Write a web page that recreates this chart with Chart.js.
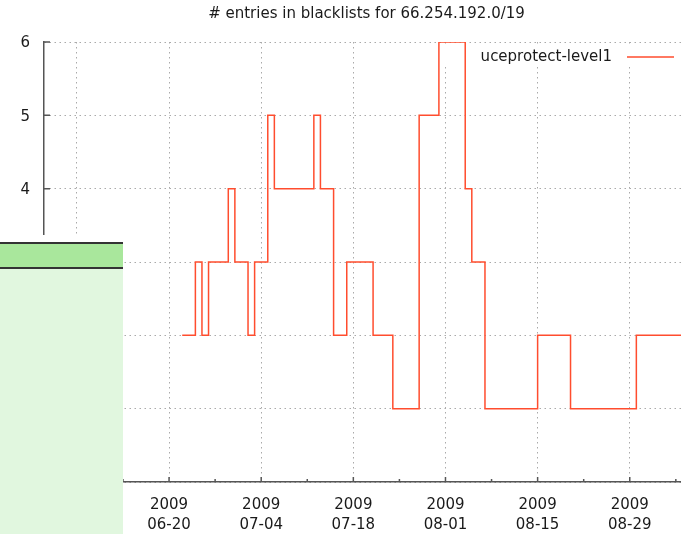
<!DOCTYPE html>
<html>
<head>
<meta charset="utf-8">
<script src="https://cdn.jsdelivr.net/npm/chart.js@4/dist/chart.umd.min.js"></script>
<style>
  html, body { margin: 0; padding: 0; background: #fff; overflow: hidden; }
  #wrap { position: relative; width: 681px; height: 534px; overflow: hidden; }
  #c { position: absolute; left: 0; top: 0; }
  #overlay { position: absolute; left: 0; top: 235px; width: 123px; height: 299px; background: #fff; }
  #ovHead { position: absolute; left: 0; top: 7px; width: 123px; height: 23px; background: #a9e79c;
            border-top: 2px solid #333; border-bottom: 2px solid #333; }
  #ovBody { position: absolute; left: 0; top: 34px; width: 123px; bottom: 0; background: #e1f7df; }
</style>
</head>
<body>
<div id="wrap">
  <canvas id="c" width="689" height="534"></canvas>
  <div id="overlay"><div id="ovHead"></div><div id="ovBody"></div></div>
</div>
<script>
// ---- data ----
const chartTitle = '# entries in blacklists for 66.254.192.0/19';
const seriesName = 'uceprotect-level1';
const changeDates = ['2009-06-22','2009-06-24','2009-06-25','2009-06-26','2009-06-29','2009-06-30',
  '2009-07-02','2009-07-03','2009-07-05','2009-07-06','2009-07-12','2009-07-13','2009-07-15',
  '2009-07-17','2009-07-21','2009-07-24','2009-07-28','2009-07-31','2009-08-04','2009-08-05',
  '2009-08-07','2009-08-15','2009-08-20','2009-08-30','2009-09-08'];
const entryCounts = [2,3,2,3,4,3,2,3,5,4,5,4,2,3,2,1,5,6,4,3,1,2,1,2,2];
const majorTickDates = ['2009-06-06','2009-06-20','2009-07-04','2009-07-18','2009-08-01','2009-08-15','2009-08-29'];
const majorTickLabels = [['2009','06-06'],['2009','06-20'],['2009','07-04'],['2009','07-18'],['2009','08-01'],['2009','08-15'],['2009','08-29']];
const minorTickDates = ['2009-05-30','2009-06-13','2009-06-27','2009-07-11','2009-07-25','2009-08-08','2009-08-22','2009-09-05'];
const yTicks = [0,1,2,3,4,5,6];
const axisStart = '2009-06-01T00:00:00';
const axisEnd = '2009-09-07T00:00:00';

// ---- helpers ----
const origin = Date.UTC(2009, 5, 20);
function toDay(s) {
  const t = s.length <= 10 ? s + 'T00:00:00' : s;
  return (Date.parse(t + 'Z') - origin) / 86400000;
}
const points = changeDates.map((d, i) => ({ x: toDay(d), y: entryCounts[i] }));
const majorVals = majorTickDates.map(toDay);
const minorVals = minorTickDates.map(toDay);

const FONT = "'DejaVu Sans', sans-serif";
const lineColor = '#ff4d2e';
const textColor = '#1a1a1a';

const decor = {
  id: 'decor',
  beforeDatasetsDraw(chart) {
    const ctx = chart.ctx;
    // key box blanks the grid behind it
    ctx.save();
    ctx.fillStyle = '#fff';
    ctx.fillRect(440, 44, 260, 21);
    ctx.restore();
  },
  afterDatasetsDraw(chart) {
    const ctx = chart.ctx;
    const xs = chart.scales.x, ys = chart.scales.y;
    const area = chart.chartArea;
    ctx.save();
    ctx.strokeStyle = '#555';
    ctx.lineWidth = 1.5;
    ctx.beginPath();
    majorVals.forEach(v => {
      const px = xs.getPixelForValue(v);
      if (px < area.left || px > area.right) return;
      ctx.moveTo(px, area.bottom); ctx.lineTo(px, area.bottom - 5);
    });
    minorVals.forEach(v => {
      const px = xs.getPixelForValue(v);
      if (px < area.left || px > area.right) return;
      ctx.moveTo(px, area.bottom); ctx.lineTo(px, area.bottom - 3);
    });
    yTicks.forEach(v => {
      const py = ys.getPixelForValue(v);
      ctx.moveTo(area.left, py); ctx.lineTo(area.left + 6, py);
    });
    ctx.stroke();
    // key
    ctx.fillStyle = textColor;
    ctx.font = '15px ' + FONT;
    ctx.textAlign = 'right';
    ctx.textBaseline = 'middle';
    ctx.fillText(seriesName, 612, 57);
    ctx.strokeStyle = lineColor;
    ctx.lineWidth = 1.5;
    ctx.beginPath();
    ctx.moveTo(627, 57); ctx.lineTo(674, 57);
    ctx.stroke();
    ctx.restore();
  }
};

new Chart(document.getElementById('c'), {
  type: 'line',
  data: {
    datasets: [{
      label: seriesName,
      data: points,
      stepped: 'before',
      borderColor: lineColor,
      borderWidth: 1.5,
      pointRadius: 0,
      fill: false
    }]
  },
  plugins: [decor],
  options: {
    responsive: false,
    animation: false,
    layout: { padding: 0 },
    plugins: {
      legend: { display: false },
      tooltip: { enabled: false },
      title: {
        display: true,
        fullSize: false,
        text: chartTitle,
        color: textColor,
        font: { family: FONT, size: 15, weight: 'normal', lineHeight: 1.2 },
        padding: { top: 5, bottom: 19 }
      }
    },
    scales: {
      x: {
        type: 'linear',
        min: toDay(axisStart),
        max: toDay(axisEnd),
        afterBuildTicks(scale) { scale.ticks = majorVals.map(v => ({ value: v })); },
        afterFit(scale) { scale.height = 52; },
        grid: { color: '#aaa', lineWidth: 1, drawTicks: false },
        border: { display: true, color: '#555', width: 1.5, dash: [1.5, 3.5] },
        ticks: {
          autoSkip: false, maxRotation: 0, padding: 13.5,
          color: textColor,
          font: { family: FONT, size: 15, lineHeight: 1.333 },
          callback(value) {
            const i = majorVals.findIndex(v => Math.abs(v - value) < 1e-6);
            return i >= 0 ? majorTickLabels[i] : '';
          }
        }
      },
      y: {
        min: 0, max: 6,
        afterBuildTicks(scale) { scale.ticks = yTicks.map(v => ({ value: v })); },
        afterFit(scale) { scale.width = 44; },
        grid: { color: '#aaa', lineWidth: 1, drawTicks: false },
        border: { display: true, color: '#555', width: 1.5, dash: [1.5, 3.5] },
        ticks: {
          padding: 14, color: textColor, labelOffset: 1.5,
          font: { family: FONT, size: 15 },
          callback(value) { return value === 0 ? '' : String(value); }
        }
      }
    }
  }
});
</script>
</body>
</html>
